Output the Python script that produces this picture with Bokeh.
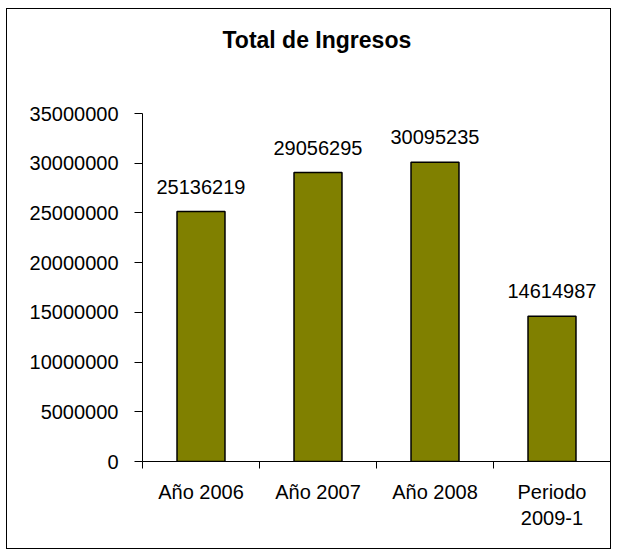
from bokeh.plotting import figure
from bokeh.models import (Range1d, FixedTicker, NumeralTickFormatter, ColumnDataSource,
                          LabelSet, Title)
from bokeh.core.properties import value
from bokeh.embed import file_html
from bokeh.resources import INLINE

title_text = "Total de Ingresos"
categories = ["Año 2006", "Año 2007", "Año 2008", "Periodo\n2009-1"]
values = [25136219, 29056295, 30095235, 14614987]
y_ticks = [0, 5000000, 10000000, 15000000, 20000000, 25000000, 30000000, 35000000]

FONT = "Liberation Sans"
centers = [i + 0.5 for i in range(len(categories))]
bounds = [float(i) for i in range(len(categories) + 1)]

src = ColumnDataSource(dict(x=centers, top=values, label=[str(v) for v in values]))

p = figure(width=605, height=541, output_backend="svg", toolbar_location=None,
           x_range=Range1d(0, len(categories)), y_range=Range1d(y_ticks[0], y_ticks[-1]),
           min_border_left=135, min_border_right=2, min_border_top=104, min_border_bottom=89)
p.margin = (8, 0, 0, 6)
p.styles = {"border": "1px solid black"}
p.outline_line_color = None
p.xgrid.visible = False
p.ygrid.visible = False
p.background_fill_color = "white"
p.border_fill_color = "white"

# spacer between frame and title (closest to the frame), then the title itself
spacer = Title(text=" ", text_font_size="2px", standoff=52)
p.add_layout(spacer, "above")
main_title = Title(text=title_text, text_font=FONT, text_font_size="23px",
                   text_font_style="bold", text_color="black", align="left",
                   offset=80, standoff=10)
p.add_layout(main_title, "above")

p.vbar(x="x", top="top", width=0.41, source=src, fill_color="#808000",
       line_color="black", line_width=1.5)

labels = LabelSet(x="x", y="top", text="label", source=src, text_align="center",
                  text_baseline="bottom", y_offset=18, text_font=value(FONT),
                  text_font_size=value("20px"), text_color=value("black"))
p.add_layout(labels)

ya = p.yaxis[0]
ya.ticker = FixedTicker(ticks=y_ticks)
ya.formatter = NumeralTickFormatter(format="0")
ya.major_label_text_font = FONT
ya.major_label_text_font_size = "20px"
ya.major_label_text_color = "black"
ya.major_tick_in = 0
ya.major_tick_out = 8
ya.minor_tick_out = 0
ya.minor_tick_in = 0
ya.major_label_standoff = 16
ya.axis_line_color = "black"
ya.major_tick_line_color = "black"

xa = p.xaxis[0]
xa.ticker = FixedTicker(ticks=centers, minor_ticks=bounds)
xa.major_label_overrides = {c: lab for c, lab in zip(centers, categories)}
xa.major_label_text_font = FONT
xa.major_label_text_font_size = "20px"
xa.major_label_text_color = "black"
xa.major_tick_in = 0
xa.major_tick_out = 0
xa.minor_tick_in = 0
xa.minor_tick_out = 7
xa.minor_tick_line_color = "black"
xa.major_label_standoff = 12
xa.axis_line_color = "black"

open("out.html", "w").write(file_html(p, INLINE))
